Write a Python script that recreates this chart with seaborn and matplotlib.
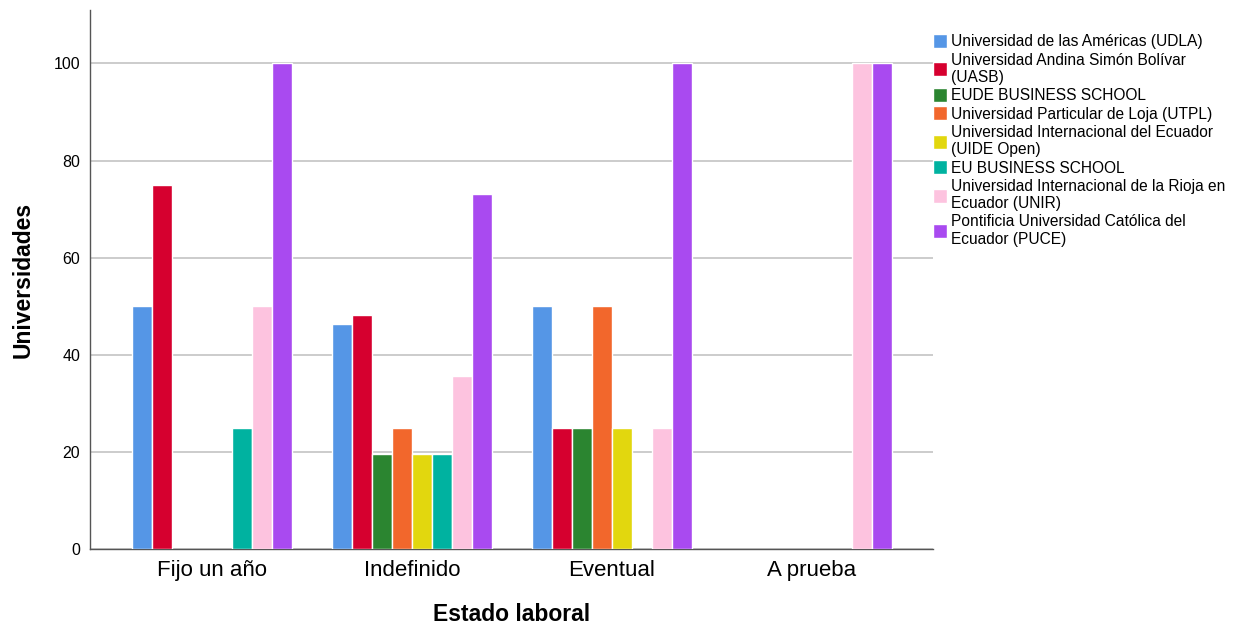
import matplotlib
matplotlib.use("Agg")
import matplotlib.pyplot as plt
import seaborn as sns
import pandas as pd
import numpy as np

categories = ["Fijo un año", "Indefinido", "Eventual", "A prueba"]
universities = [
    "Universidad de las Américas (UDLA)",
    "Universidad Andina Simón Bolívar\n(UASB)",
    "EUDE BUSINESS SCHOOL",
    "Universidad Particular de Loja (UTPL)",
    "Universidad Internacional del Ecuador\n(UIDE Open)",
    "EU BUSINESS SCHOOL",
    "Universidad Internacional de la Rioja en\nEcuador (UNIR)",
    "Pontificia Universidad Católica del\nEcuador (PUCE)",
]
colors = ["#5596e6", "#d6002f", "#2b8530", "#f2672c", "#e2d70e", "#00b2a0", "#fdc3df", "#a94af0"]

nan = np.nan
udla = [50, 46.4, 50, nan]
uasb = [75, 48.1, 25, nan]
eude = [nan, 19.6, 25, nan]
utpl = [nan, 25, 50, nan]
uide = [nan, 19.6, 25, nan]
eu = [25, 19.6, nan, nan]
unir = [50, 35.6, 25, 100]
puce = [100, 73.2, 100, 100]

series = [udla, uasb, eude, utpl, uide, eu, unir, puce]
rows = []
for name, vals in zip(universities, series):
    for c, v in zip(categories, vals):
        rows.append({"Estado laboral": c, "Universidad": name, "valor": v})
df = pd.DataFrame(rows)

sns.set_theme(style="white")
plt.rcParams["font.family"] = ["Liberation Sans", "DejaVu Sans"]
plt.rcParams["text.color"] = "black"
plt.rcParams["axes.labelcolor"] = "black"
plt.rcParams["xtick.color"] = "black"
plt.rcParams["ytick.color"] = "black"

fig = plt.figure(figsize=(12.36, 6.31), dpi=100)
ax = fig.add_axes([0.0728, 0.13, 0.682, 0.854])

sns.barplot(data=df, x="Estado laboral", y="valor", hue="Universidad",
            hue_order=universities, order=categories, palette=colors,
            saturation=1, width=0.8, edgecolor="white", linewidth=1.0,
            ax=ax, zorder=3)

ax.set_ylim(0, 111)
ax.set_xlim(-0.61, 3.605)
ax.set_yticks([0, 20, 40, 60, 80, 100])
ax.yaxis.grid(True, color="#c4c4c4", linewidth=1.2, zorder=0)
ax.set_axisbelow(True)
for s in ["top", "right"]:
    ax.spines[s].set_visible(False)
for s in ["left", "bottom"]:
    ax.spines[s].set_color("#555555")
    ax.spines[s].set_linewidth(1.0)
ax.tick_params(axis="y", labelsize=11.5, length=0, pad=7)
ax.tick_params(axis="x", labelsize=16, length=0, pad=8)
ax.set_ylabel("Universidades", fontsize=16.5, fontweight="bold", labelpad=14)
ax.set_xlabel("Estado laboral", fontsize=16.5, fontweight="bold", labelpad=16)

leg = ax.legend(loc="upper left", bbox_to_anchor=(0.993, 0.967), frameon=False,
                fontsize=11.2, handlelength=0.9, handleheight=1.0,
                handletextpad=0.25, labelspacing=0.2, borderaxespad=0, title=None)

fig.savefig("out.png", dpi=100)
